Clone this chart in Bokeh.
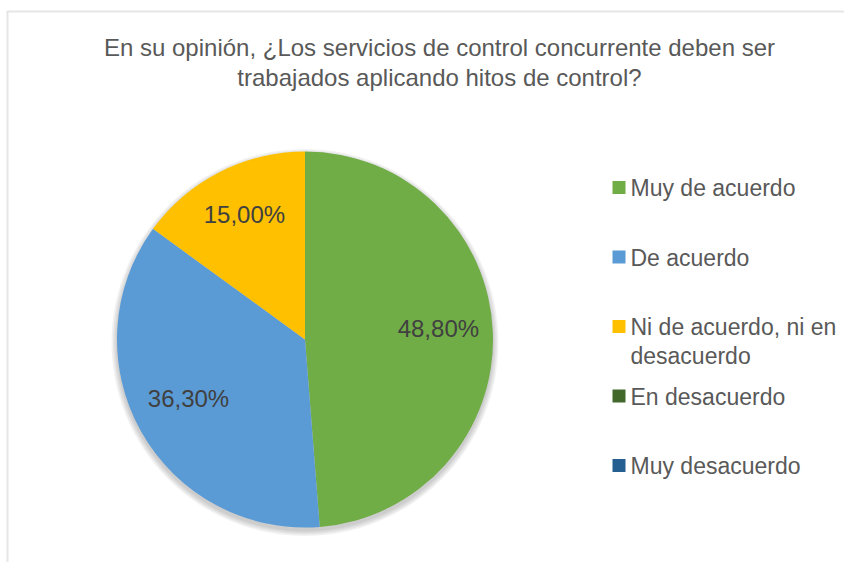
import math
from bokeh.plotting import figure
from bokeh.models import ColumnDataSource, Range1d
from bokeh.core.properties import value
from bokeh.embed import file_html
from bokeh.resources import INLINE

# ---- data ----
title_text = "En su opinión, ¿Los servicios de control concurrente deben ser\ntrabajados aplicando hitos de control?"
categories = ["Muy de acuerdo", "De acuerdo", "Ni de acuerdo, ni en desacuerdo",
              "En desacuerdo", "Muy desacuerdo"]
legend_labels = ["Muy de acuerdo", "De acuerdo", "Ni de acuerdo, ni en\ndesacuerdo",
                 "En desacuerdo", "Muy desacuerdo"]
percentages = [48.8, 36.3, 15.0, 0.0, 0.0]
colors = ["#70AD47", "#5B9BD5", "#FFC000", "#43682B", "#255E91"]

# ---- layout (pixel-like data units) ----
W, H = 844, 562
FONT = "Liberation Sans"
cx, cy, R = 304.5, 223.0, 188.0

p = figure(width=W, height=H, output_backend="svg", toolbar_location=None,
           x_axis_type=None, y_axis_type=None,
           x_range=Range1d(0, W), y_range=Range1d(0, H),
           min_border=0, min_border_left=0, min_border_right=0,
           min_border_top=0, min_border_bottom=0)
p.grid.visible = False
p.outline_line_color = None
p.background_fill_color = "white"
p.border_fill_color = "white"

# frame (left and top edges of chart area)
p.segment(x0=[7, 6], y0=[0, 551], x1=[7, W], y1=[551, 551],
          line_color="#e6e6e6", line_width=2)

# title
p.text(x=[439], y=[500], text=[title_text], text_align="center",
       text_baseline="middle", text_font=value(FONT), text_font_size="24px",
       text_color="#595959", text_line_height=1.1)

# slices
total = sum(percentages)
starts, ends, cols, lx, ly, ltxt = [], [], [], [], [], []
ang = math.pi / 2
for v, c in zip(percentages, colors):
    span = 2 * math.pi * v / total
    if v > 0:
        starts.append(ang)
        ends.append(ang - span)
        cols.append(c)
        mid = ang - span / 2
        lx.append(cx + 0.71 * R * math.cos(mid))
        ly.append(cy + 0.71 * R * math.sin(mid))
        ltxt.append(f"{v:.2f}%".replace(".", ","))
    ang -= span

# soft shadow
for k in range(4):
    p.circle(x=[cx], y=[cy - 3], radius=R + 1 + k * 1.5, fill_color="black",
             fill_alpha=0.05, line_color=None)

src = ColumnDataSource(dict(start=starts, end=ends, color=cols))
p.wedge(x=cx, y=cy, radius=R, start_angle="start", end_angle="end",
        direction="clock", fill_color="color", line_color=None, source=src)

p.text(x=lx, y=ly, text=ltxt, text_align="center", text_baseline="middle",
       y_offset=-6, text_font=value(FONT), text_font_size="24px",
       text_color="#404040")

# legend (manual)
n = len(categories)
rows = [375 - 69.5 * i for i in range(n)]
p.rect(x=[618.5] * n, y=rows, width=13, height=13, fill_color=colors,
       line_color=None)
p.text(x=[630] * n, y=rows, text=legend_labels, text_align="left",
       text_baseline="top", y_offset=-12.5, text_font=value(FONT),
       text_font_size="23px", text_color="#595959", text_line_height=1.12)

open("out.html", "w").write(file_html(p, INLINE))
